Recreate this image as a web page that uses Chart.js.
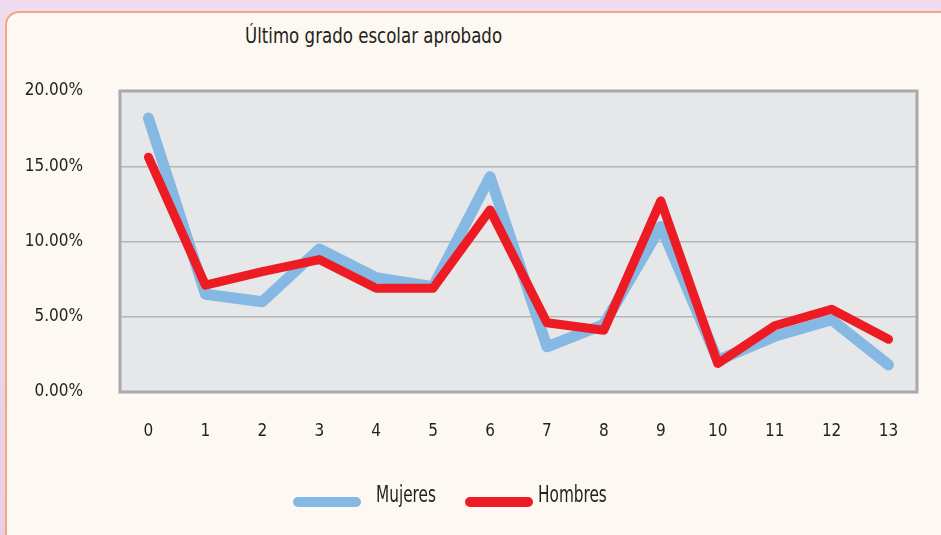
<!DOCTYPE html>
<html>
<head>
<meta charset="utf-8">
<script src="https://cdn.jsdelivr.net/npm/chart.js@4"></script>
<style>
    html, body { margin: 0; padding: 0; }
    body {
        width: 941px; height: 535px; overflow: hidden; position: relative;
        background: linear-gradient(180deg, #efdcef 0%, #e9cfe4 100%);
        font-family: "DejaVu Sans Condensed", "DejaVu Sans", sans-serif;
        color: #231f20;
    }
    .panel {
        position: absolute; left: 5px; top: 11px; width: 960px; height: 540px;
        background: #fdf8f2; border: 2px solid #f1a97d; border-radius: 14px;
    }
    .title {
        position: absolute; left: 245px; top: 24px; font-size: 21px; white-space: nowrap;
        transform: scaleX(0.88); transform-origin: left center;
    }
    canvas { position: absolute; left: 0; top: 0; }
    .leg-line { position: absolute; top: 497px; width: 68px; height: 10px; border-radius: 5px; }
    .leg-text {
        position: absolute; top: 481px; font-size: 23px; white-space: nowrap;
        transform: scaleX(0.74); transform-origin: left center;
    }
</style>
</head>
<body>
<div class="panel"></div>
<div class="title">Último grado escolar aprobado</div>
<canvas id="chart" width="941" height="535"></canvas>
<div class="leg-line" style="left:293px;background:#85b8e3"></div>
<div class="leg-text" style="left:376px">Mujeres</div>
<div class="leg-line" style="left:465px;background:#ed1c24"></div>
<div class="leg-text" style="left:538px">Hombres</div>
<script>
// Data
const categories = ['0', '1', '2', '3', '4', '5', '6', '7', '8', '9', '10', '11', '12', '13'];
const mujeres = [18.2, 6.5, 6.0, 9.5, 7.6, 7.0, 14.3, 3.0, 4.5, 11.0, 2.1, 3.7, 4.8, 1.8];
const hombres = [15.6, 7.1, 8.0, 8.8, 6.9, 6.9, 12.1, 4.6, 4.1, 12.7, 1.9, 4.4, 5.5, 3.5];
const yTicks = [0, 5, 10, 15, 20];

const tickFont = { family: '"DejaVu Sans Condensed", "DejaVu Sans", sans-serif', size: 17 };

// Gray plot background with a box around it
const plotBox = {
    id: 'plotBox',
    beforeDraw(chart) {
        const { ctx, chartArea: a } = chart;
        ctx.save();
        ctx.fillStyle = '#e6e7e8';
        ctx.fillRect(a.left, a.top, a.right - a.left, a.bottom - a.top);
        ctx.restore();
    },
    beforeDatasetsDraw(chart) {
        const { ctx, chartArea: a } = chart;
        ctx.save();
        ctx.strokeStyle = '#a7a9ac';
        ctx.lineWidth = 3;
        ctx.strokeRect(a.left, a.top, a.right - a.left, a.bottom - a.top);
        ctx.restore();
    }
};

new Chart(document.getElementById('chart'), {
    type: 'line',
    data: {
        labels: categories,
        datasets: [{
            label: 'Mujeres',
            data: mujeres,
            borderColor: '#85b8e3',
            borderWidth: 11,
            order: 1
        }, {
            label: 'Hombres',
            data: hombres,
            borderColor: '#ed1c24',
            borderWidth: 9,
            order: 0
        }]
    },
    options: {
        responsive: false,
        animation: false,
        layout: { padding: { top: 91, right: 24, left: 0, bottom: 0 } },
        elements: {
            point: { radius: 0 },
            line: { tension: 0, borderCapStyle: 'round', borderJoinStyle: 'round' }
        },
        plugins: { legend: { display: false }, tooltip: { enabled: false } },
        scales: {
            x: {
                offset: true,
                afterFit: s => { s.height = 143; },
                grid: { display: false, drawTicks: false },
                border: { display: false },
                ticks: { padding: 29, color: '#231f20', font: tickFont, maxRotation: 0 }
            },
            y: {
                min: 0,
                max: 20,
                afterFit: s => { s.width = 120; },
                afterBuildTicks: s => { s.ticks = yTicks.map(v => ({ value: v })); },
                grid: { color: '#b3b5b8', lineWidth: 1.5, drawTicks: false },
                border: { display: false },
                ticks: {
                    padding: 37,
                    color: '#231f20',
                    font: tickFont,
                    callback: v => v.toFixed(2) + '%'
                }
            }
        }
    },
    plugins: [plotBox]
});
</script>
</body>
</html>
